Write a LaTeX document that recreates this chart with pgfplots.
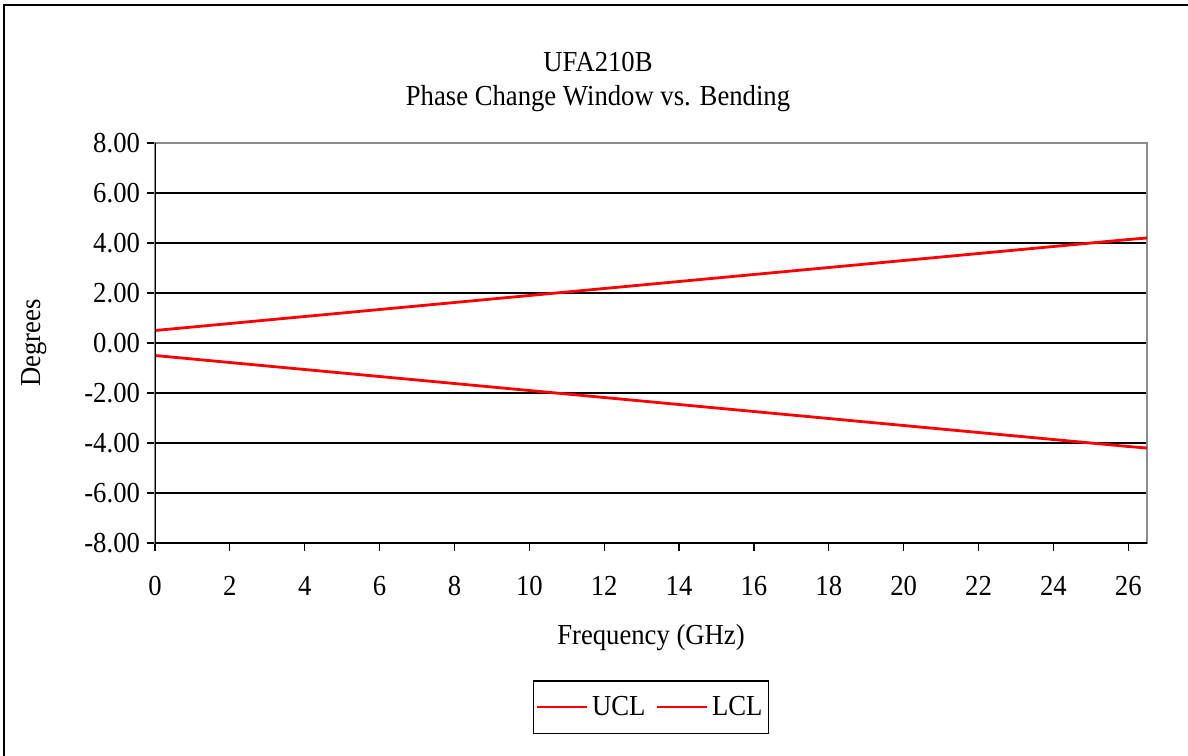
\documentclass[border=0pt]{standalone}
\usepackage{fontspec}
\setmainfont{Liberation Serif}[FakeStretch=0.92]
\usepackage{pgfplots}
\pgfplotsset{compat=1.18}
\begin{document}
\begin{tikzpicture}
\useasboundingbox (0,0) rectangle (594pt,-377.5pt);
\draw[line width=1.1pt] (2pt,-390pt) -- (2pt,-2.5pt) -- (600pt,-2.5pt);
\node[font=\fontsize{14.5}{17}\selectfont] at (299pt,-31pt) {UFA210B};
\node[font=\fontsize{14.5}{17}\selectfont] at (299pt,-49.5pt) {Phase Change Window vs. Bending};
\node[font=\fontsize{14.5}{17}\selectfont, rotate=90] at (17pt,-171.5pt) {Degrees};
\node[font=\fontsize{14.5}{17}\selectfont] at (325.5pt,-319pt) {Frequency (GHz)};
\begin{axis}[
  at={(77.5pt,-271.5pt)}, anchor=south west,
  scale only axis, width=496pt, height=200pt,
  xmin=0, xmax=26.5, ymin=-8, ymax=8,
  xtick={0,2,...,26},
  xticklabels={0,2,4,6,8,10,12,14,16,18,20,22,24,26},
  ytick={-8,-6,...,8},
  yticklabels={-8.00,-6.00,-4.00,-2.00,0.00,2.00,4.00,6.00,8.00},
  tick align=outside, major tick length=4pt,
  tick style={black, line width=0.6pt},
  xtick pos=bottom, ytick pos=left,
  ymajorgrids, grid style={black, line width=0.6pt},
  axis line style={gray!90, line width=0.8pt},
  ticklabel style={font=\fontsize{14.5}{17}\selectfont},
  xticklabel style={yshift=-9pt},
  legend columns=2,
  legend style={at={(0.5,-0.41)}, anchor=center, draw=black, line width=0.6pt,
    font=\fontsize{14.5}{17}\selectfont, inner xsep=1pt, inner ysep=5.5pt,
    /tikz/every even column/.append style={column sep=3pt}},
  legend image code/.code={\draw[#1, line width=1.3pt] (0pt,0pt) -- (25pt,0pt);},
]
\addplot[red, line width=1.4pt] coordinates {(0,0.5) (2,0.78) (4,1.06) (6,1.34) (8,1.62) (10,1.90) (12,2.18) (14,2.46) (16,2.74) (18,3.02) (20,3.30) (22,3.58) (24,3.86) (26,4.14) (26.5,4.2)};
\addlegendentry{UCL}
\addplot[red, line width=1.4pt] coordinates {(0,-0.5) (2,-0.78) (4,-1.06) (6,-1.34) (8,-1.62) (10,-1.90) (12,-2.18) (14,-2.46) (16,-2.74) (18,-3.02) (20,-3.30) (22,-3.58) (24,-3.86) (26,-4.14) (26.5,-4.2)};
\addlegendentry{LCL}
\draw[black, line width=0.8pt] (rel axis cs:0,1) -- (rel axis cs:0,0) -- (rel axis cs:1,0);
\end{axis}
\end{tikzpicture}
\end{document}
